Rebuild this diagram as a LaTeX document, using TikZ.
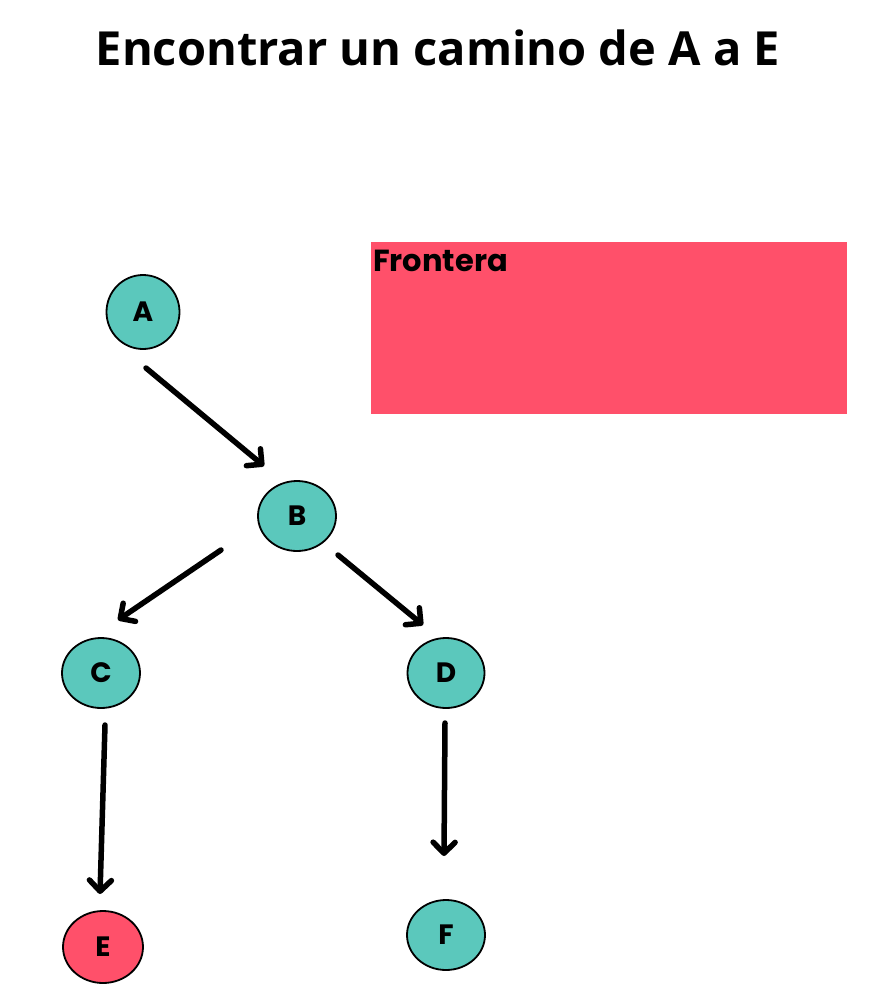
\documentclass[tikz,border=0pt]{standalone}
\usepackage{fontspec}
\setmainfont{Poppins}
\newfontfamily\titlefont{Open Sans}
\usetikzlibrary{arrows.meta,shapes.geometric}
\definecolor{teal}{HTML}{5BC8BC}
\definecolor{front}{HTML}{FF506A}
\tikzset{
  st/.style={ellipse,draw=black,line width=1.8pt,fill=teal,font=\fontsize{28}{28}\selectfont\bfseries,inner sep=0pt},
  conn/.style={line width=5.5pt,line cap=round,-{Straight Barb[length=11pt,width=22pt,line width=5.5pt,round]}}
}
\begin{document}
\begin{tikzpicture}[x=1pt,y=-1pt]
\useasboundingbox (0,0) rectangle (895,999);
\node[font=\titlefont\fontsize{47}{47}\selectfont\bfseries] (title) at (438,48) {Encontrar un camino de A a E};
\fill[front] (371,242) rectangle (847,414);
\node[anchor=north west,font=\fontsize{30.5}{30.5}\selectfont\bfseries,inner sep=0pt] (fr) at (373,250) {Frontera};
\node[st,minimum width=73pt,minimum height=74pt] (A) at (143,312) {A};
\node[st,minimum width=78pt,minimum height=70pt] (B) at (297,516) {B};
\node[st,minimum width=78pt,minimum height=70pt] (C) at (101,673) {C};
\node[st,minimum width=77pt,minimum height=70pt] (D) at (446,673) {D};
\node[st,fill=front,minimum width=80pt,minimum height=72pt] (E) at (103,947) {E};
\node[st,minimum width=78pt,minimum height=70pt] (F) at (446,935) {F};
\coordinate (ab1) at (146,368); \coordinate (ab2) at (264,466);
\coordinate (bc1) at (221,550); \coordinate (bc2) at (118,620);
\coordinate (bd1) at (338,555); \coordinate (bd2) at (423,625);
\coordinate (ce1) at (105,725); \coordinate (ce2) at (100,894);
\coordinate (df1) at (445,723); \coordinate (df2) at (444,856);
\draw[conn] (ab1) -- (ab2);
\draw[conn] (bc1) -- (bc2);
\draw[conn] (bd1) -- (bd2);
\draw[conn] (ce1) -- (ce2);
\draw[conn] (df1) -- (df2);
\end{tikzpicture}
\end{document}
